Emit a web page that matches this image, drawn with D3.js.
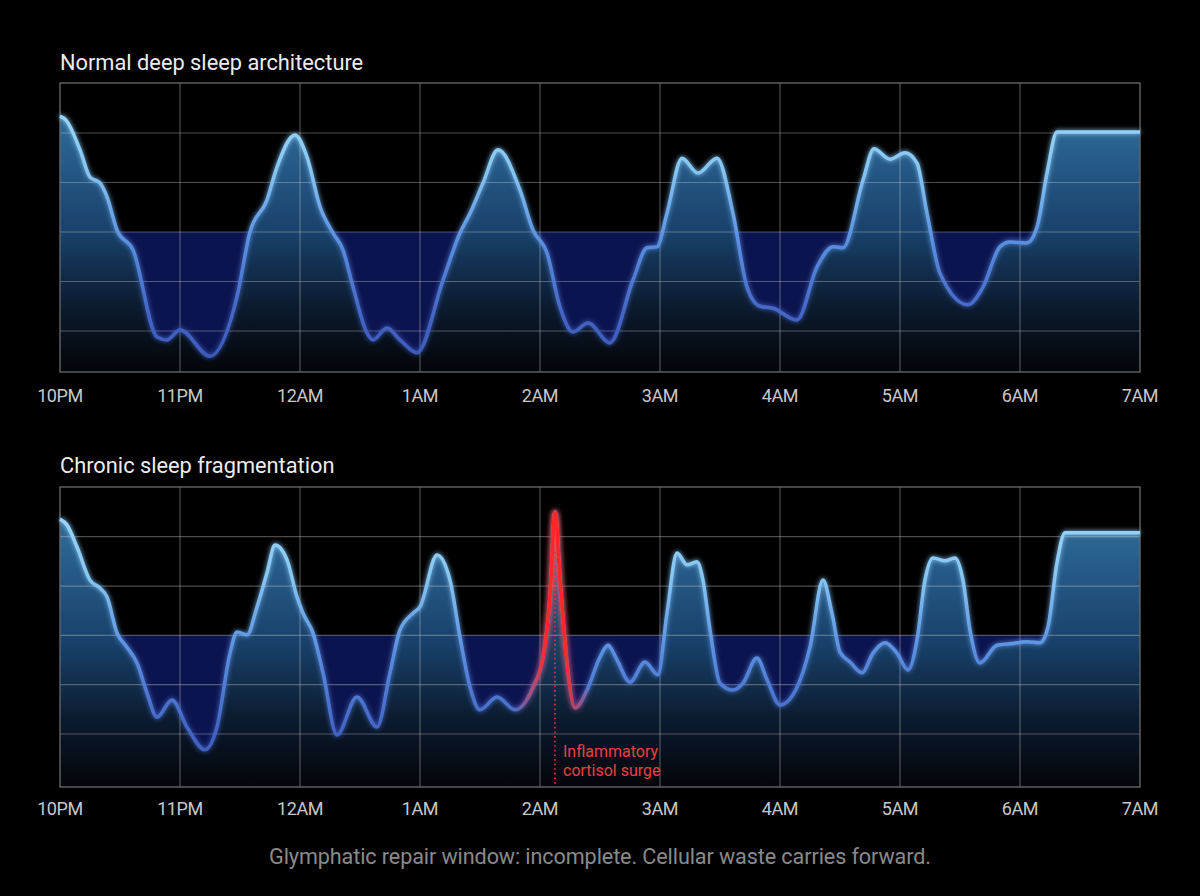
<!DOCTYPE html>
<html>
<head>
<meta charset="utf-8">
<script src="https://cdn.jsdelivr.net/npm/d3@7"></script>
<style>
  body { margin: 0; background: #000; }
  svg { display: block; font-family: Roboto, "Noto Sans", sans-serif; }
</style>
</head>
<body>
<div id="chart"></div>
<script>
// hour ticks, 0 = 10PM
const hourLabels = ["10PM", "11PM", "12AM", "1AM", "2AM", "3AM", "4AM", "5AM", "6AM", "7AM"];

// [hours since 10PM, sleep level]
const normalSleep = [
  [0, 5.34], [0.05, 5.26], [0.167, 4.66], [0.25, 4.11], [0.333, 3.99], [0.392, 3.71],
  [0.475, 3.04], [0.608, 2.64], [0.808, 0.88], [0.892, 0.82], [1.0, 1.02], [1.25, 0.49],
  [1.475, 1.69], [1.583, 3.0], [1.725, 3.65], [1.808, 4.31], [1.958, 4.96], [2.058, 4.52],
  [2.167, 3.51], [2.275, 2.98], [2.358, 2.64], [2.442, 1.89], [2.558, 0.96], [2.608, 0.82],
  [2.725, 1.06], [2.833, 0.82], [2.975, 0.56], [3.192, 2.03], [3.333, 2.98], [3.417, 3.38],
  [3.525, 3.99], [3.65, 4.66], [3.833, 3.85], [3.942, 3.04], [4.058, 2.58], [4.167, 1.48],
  [4.275, 0.98], [4.4, 1.16], [4.583, 0.76], [4.775, 2.03], [4.892, 2.68], [4.975, 2.70],
  [5.058, 3.38], [5.183, 4.49], [5.317, 4.19], [5.475, 4.49], [5.608, 3.38], [5.725, 1.89],
  [5.833, 1.50], [5.942, 1.46], [6.142, 1.22], [6.308, 2.29], [6.442, 2.70], [6.525, 2.68],
  [6.692, 4.05], [6.783, 4.68], [6.917, 4.47], [7.042, 4.60], [7.142, 4.39], [7.225, 3.38],
  [7.333, 2.17], [7.567, 1.53], [7.692, 1.89], [7.833, 2.70], [7.917, 2.80], [8.058, 2.78],
  [8.142, 3.10], [8.225, 4.19], [8.308, 5.02], [9, 5.02]
];

const fragmentedSleep = [
  [0, 5.36], [0.058, 5.24], [0.142, 4.79], [0.25, 4.12], [0.333, 3.96], [0.392, 3.78],
  [0.475, 3.05], [0.558, 2.76], [0.642, 2.44], [0.725, 1.83], [0.808, 1.34], [0.933, 1.69],
  [1.058, 1.14], [1.208, 0.68], [1.308, 1.14], [1.417, 2.64], [1.475, 3.07], [1.558, 3.01],
  [1.642, 3.58], [1.725, 4.27], [1.792, 4.83], [1.892, 4.53], [1.975, 3.78], [2.025, 3.45],
  [2.108, 3.05], [2.192, 2.24], [2.308, 0.98], [2.475, 1.75], [2.642, 1.14], [2.75, 2.24],
  [2.833, 3.11], [2.942, 3.45], [3.0, 3.58], [3.142, 4.63], [3.25, 4.12], [3.333, 2.97],
  [3.417, 1.95], [3.5, 1.49], [3.642, 1.75], [3.792, 1.49], [3.942, 1.95], [4.025, 2.56],
  [4.083, 3.78], [4.125, 5.50], [4.167, 4.12], [4.225, 2.44], [4.292, 1.53], [4.392, 1.89],
  [4.5, 2.56], [4.567, 2.80], [4.642, 2.50], [4.75, 2.05], [4.875, 2.46], [4.983, 2.20],
  [5.058, 3.45], [5.142, 4.67], [5.225, 4.43], [5.308, 4.49], [5.358, 4.12], [5.417, 3.11],
  [5.5, 2.03], [5.608, 1.89], [5.692, 2.03], [5.808, 2.54], [5.892, 2.10], [6.0, 1.59],
  [6.142, 1.95], [6.25, 2.76], [6.358, 4.12], [6.433, 3.45], [6.5, 2.66], [6.583, 2.46],
  [6.683, 2.24], [6.775, 2.64], [6.875, 2.85], [6.975, 2.64], [7.067, 2.30], [7.142, 2.91],
  [7.208, 4.12], [7.275, 4.57], [7.375, 4.51], [7.458, 4.57], [7.525, 4.12], [7.583, 3.11],
  [7.667, 2.44], [7.808, 2.80], [7.917, 2.83], [8.058, 2.87], [8.167, 2.85], [8.233, 3.17],
  [8.308, 4.47], [8.375, 5.08], [9, 5.08]
];

const panelTitles = ["Normal deep sleep architecture", "Chronic sleep fragmentation"];
const gridLevels = [1, 2, 3, 4, 5];
const baselineLevel = 3;
const surgeHour = 4.125;
const surgeLabel = ["Inflammatory", "cortisol surge"];
const footnote = "Glymphatic repair window: incomplete. Cellular waste carries forward.";

const width = 1200, height = 896;

const x = d3.scaleLinear().domain([0, 9]).range([60, 1140]);

const panels = [
  { title: panelTitles[0], data: normalSleep, top: 83, bottom: 372, gridTop: 133, gridBottom: 331, titleY: 70, labelY: 402 },
  { title: panelTitles[1], data: fragmentedSleep, top: 487, bottom: 787, gridTop: 536.7, gridBottom: 734, titleY: 473, labelY: 815, surge: true }
];

const svg = d3.select("#chart").append("svg")
  .attr("width", width)
  .attr("height", height)
  .attr("viewBox", [0, 0, width, height]);

svg.append("rect").attr("width", width).attr("height", height).attr("fill", "#000");

const defs = svg.append("defs");

// soft glow for the curves
function addGlow(id, dev) {
  const f = defs.append("filter").attr("id", id)
    .attr("x", "-10%").attr("y", "-20%").attr("width", "120%").attr("height", "140%");
  f.append("feGaussianBlur").attr("in", "SourceGraphic").attr("stdDeviation", dev).attr("result", "blur");
  const m = f.append("feMerge");
  m.append("feMergeNode").attr("in", "blur");
  m.append("feMergeNode").attr("in", "SourceGraphic");
}
addGlow("glow", 2.6);
addGlow("redglow", 3);

panels.forEach((p, i) => {
  const y = d3.scaleLinear().domain([1, 5]).range([p.gridBottom, p.gridTop]);
  const g = svg.append("g");

  // gradients for this panel
  const areaGrad = defs.append("linearGradient").attr("id", "area" + i)
    .attr("gradientUnits", "userSpaceOnUse")
    .attr("x1", 0).attr("x2", 0).attr("y1", p.top).attr("y2", p.bottom);
  [[0, "#34739e"], [0.2, "#2b6290"], [0.52, "#18416a"], [0.78, "#0b1a2e"], [1, "#030508"]]
    .forEach(s => areaGrad.append("stop").attr("offset", s[0]).attr("stop-color", s[1]));

  const lineGrad = defs.append("linearGradient").attr("id", "line" + i)
    .attr("gradientUnits", "userSpaceOnUse")
    .attr("x1", 0).attr("x2", 0).attr("y1", p.top).attr("y2", p.bottom);
  [[0, "#a2dcff"], [0.3, "#86c6f2"], [0.55, "#5a8fe0"], [0.8, "#4466c6"], [1, "#3a56b4"]]
    .forEach(s => lineGrad.append("stop").attr("offset", s[0]).attr("stop-color", s[1]));

  const clip = defs.append("clipPath").attr("id", "clip" + i);
  clip.append("rect").attr("x", x(0)).attr("y", p.top).attr("width", x(9) - x(0)).attr("height", p.bottom - p.top);

  // title
  g.append("text")
    .attr("x", x(0))
    .attr("y", p.titleY)
    .attr("fill", "#ececec")
    .attr("font-size", "21.8px")
    .text(p.title);

  const plot = g.append("g").attr("clip-path", `url(#clip${i})`);

  // navy band below baseline
  plot.append("rect")
    .attr("x", x(0))
    .attr("y", y(baselineLevel))
    .attr("width", x(9) - x(0))
    .attr("height", p.bottom - y(baselineLevel))
    .attr("fill", "#0c1450");

  const area = d3.area()
    .x(d => x(d[0]))
    .y0(p.bottom)
    .y1(d => y(d[1]))
    .curve(d3.curveMonotoneX);

  plot.append("path")
    .datum(p.data)
    .attr("d", area)
    .attr("fill", `url(#area${i})`);

  // grid
  plot.append("g").selectAll("line")
    .data(gridLevels)
    .join("line")
    .attr("x1", x(0)).attr("x2", x(9))
    .attr("y1", d => y(d)).attr("y2", d => y(d))
    .attr("stroke", "rgba(200,200,200,0.38)")
    .attr("stroke-width", 1.2);

  plot.append("g").selectAll("line")
    .data(d3.range(1, 9))
    .join("line")
    .attr("x1", d => x(d)).attr("x2", d => x(d))
    .attr("y1", p.top).attr("y2", p.bottom)
    .attr("stroke", "rgba(200,200,200,0.38)")
    .attr("stroke-width", 1.2);

  // frame
  g.append("rect")
    .attr("x", x(0)).attr("y", p.top)
    .attr("width", x(9) - x(0)).attr("height", p.bottom - p.top)
    .attr("fill", "none")
    .attr("stroke", "#6b6b6b")
    .attr("stroke-width", 1.3);

  const line = d3.line()
    .x(d => x(d[0]))
    .y(d => y(d[1]))
    .curve(d3.curveMonotoneX);

  g.append("path")
    .datum(p.data)
    .attr("d", line)
    .attr("fill", "none")
    .attr("stroke", `url(#line${i})`)
    .attr("stroke-width", 3.5)
    .attr("stroke-linejoin", "round")
    .attr("filter", "url(#glow)");

  if (p.surge) {
    const sx = x(surgeHour);
    const peak = p.data.find(d => d[0] === surgeHour);

    const red = defs.append("linearGradient").attr("id", "redfade")
      .attr("gradientUnits", "userSpaceOnUse")
      .attr("x1", x(3.79)).attr("x2", x(4.42)).attr("y1", 0).attr("y2", 0);
    [[0, 0], [0.3, 0.55], [0.42, 1], [0.65, 1], [0.8, 0.45], [1, 0]]
      .forEach(s => red.append("stop").attr("offset", s[0]).attr("stop-color", "#ff2626").attr("stop-opacity", s[1]));

    // dotted marker
    g.append("line")
      .attr("x1", sx).attr("x2", sx)
      .attr("y1", y(peak[1]) + 40).attr("y2", p.bottom - 2)
      .attr("stroke", "#e8383a")
      .attr("stroke-width", 1.6)
      .attr("stroke-dasharray", "1.6,3");

    g.append("path")
      .datum(p.data.filter(d => d[0] > 3.6 && d[0] < 4.45))
      .attr("d", line)
      .attr("fill", "none")
      .attr("stroke", "url(#redfade)")
      .attr("stroke-width", 3.7)
      .attr("filter", "url(#redglow)");

    g.append("text")
      .attr("x", sx + 8)
      .attr("y", 757)
      .attr("fill", "#ec4040")
      .attr("font-size", "16px")
      .selectAll("tspan")
      .data(surgeLabel)
      .join("tspan")
      .attr("x", sx + 8)
      .attr("dy", (d, k) => k === 0 ? 0 : 19)
      .text(d => d);
  }

  // hour labels
  g.append("g").selectAll("text")
    .data(hourLabels)
    .join("text")
    .attr("x", (d, k) => x(k))
    .attr("y", p.labelY)
    .attr("text-anchor", "middle")
    .attr("fill", "#c8c8c8")
    .attr("font-size", "18px")
    .attr("letter-spacing", "-0.4px")
    .text(d => d);
});

svg.append("text")
  .attr("x", width / 2)
  .attr("y", 864)
  .attr("text-anchor", "middle")
  .attr("fill", "#8a8a8a")
  .attr("font-size", "21.6px")
  .attr("letter-spacing", "-0.1px")
  .text(footnote);
</script>
</body>
</html>
